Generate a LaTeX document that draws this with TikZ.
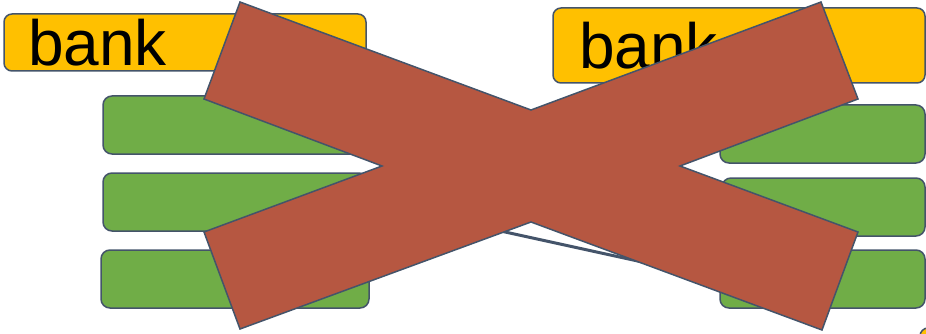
\documentclass[tikz,border=0pt]{standalone}
\usepackage{fontspec}
\setmainfont{Liberation Sans}
\definecolor{bankyellow}{HTML}{FFC000}
\definecolor{boxgreen}{HTML}{70AD47}
\definecolor{crossred}{HTML}{B65741}
\definecolor{slate}{HTML}{44546A}
\tikzset{
  bankbox/.style={draw=slate, line width=1.5pt, fill=bankyellow, rounded corners=8pt,
    inner sep=0pt, outer sep=0pt, align=left, font=\fontsize{64}{64}\selectfont},
  greenbox/.style={draw=slate, line width=1.5pt, fill=boxgreen, rounded corners=9pt,
    inner sep=0pt, outer sep=0pt},
  link/.style={draw=slate, line width=3pt},
  crossshape/.style={draw=slate, line width=1.5pt, fill=crossred, line join=miter}
}
\begin{document}
\begin{tikzpicture}[x=1pt,y=-1pt]
\useasboundingbox (0,0) rectangle (926,334);
\begin{scope}
\clip (0,0) rectangle (926,334);
% bank boxes
\node[bankbox, minimum width=362pt, minimum height=57pt, text width=314pt] (bankL) at (185,42.5) {bank};
\node[bankbox, minimum width=372pt, minimum height=75pt, text width=320pt, text depth=-4pt] (bankR) at (739,45.5) {bank};
\node[bankbox, minimum width=200pt, minimum height=60pt] (bankX) at (1020,358) {};
% left green boxes
\node[greenbox, minimum width=265pt, minimum height=58pt] (gL1) at (235.5,125) {};
\node[greenbox, minimum width=265pt, minimum height=58pt] (gL2) at (235.5,202) {};
\node[greenbox, minimum width=268pt, minimum height=58pt] (gL3) at (235,279) {};
% right green boxes
\node[greenbox, minimum width=205pt, minimum height=58pt] (gR1) at (822.5,134) {};
\node[greenbox, minimum width=203pt, minimum height=58pt] (gR2) at (823.5,207) {};
\node[greenbox, minimum width=205pt, minimum height=58pt] (gR3) at (822.5,279) {};
% connector
\draw[link] (gL2.east) -- (gR3.west);
% cross
\path[crossshape] (240,2) -- (531,110) -- (821,2) -- (858,99) -- (680,166) -- (858,232)
  -- (822,330) -- (531,222) -- (240,329) -- (204,232) -- (382,166) -- (204,99) -- cycle;
\end{scope}
\end{tikzpicture}
\end{document}
